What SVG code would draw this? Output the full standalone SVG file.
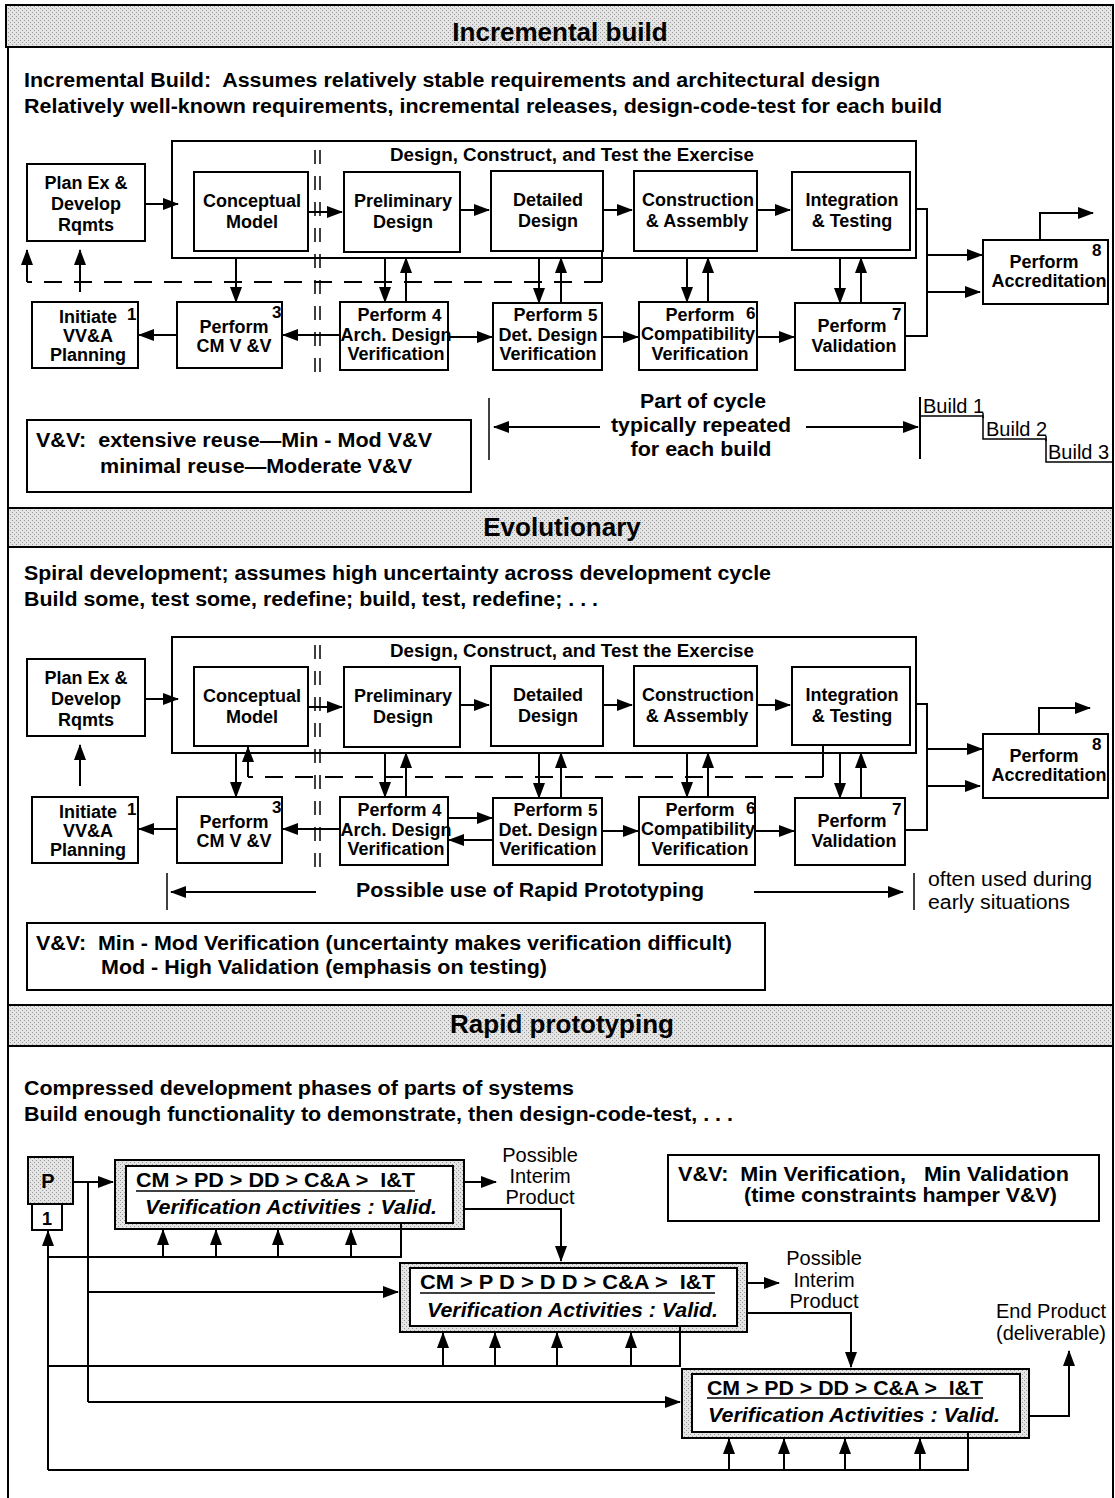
<svg xmlns="http://www.w3.org/2000/svg" width="1115" height="1498" viewBox="0 0 1115 1498" xml:space="preserve">
<defs>
  <pattern id="stipple" width="4" height="4" patternUnits="userSpaceOnUse">
    <rect width="4" height="4" fill="#e4e4e4"/>
    <rect x="0" y="0" width="1" height="1" fill="#9a9a9a"/>
    <rect x="2" y="2" width="1" height="1" fill="#9a9a9a"/>
  </pattern>
  <marker id="ah" viewBox="0 0 16 12" refX="15" refY="6" markerWidth="16" markerHeight="12" markerUnits="userSpaceOnUse" orient="auto">
    <path d="M0,0 L16,6 L0,12 Z" fill="#000"/>
  </marker>
</defs>
<style>
  text { font-family: "Liberation Sans", Arial, Helvetica, sans-serif; fill: #000; white-space: pre; }
  .hd { font-size: 26px; font-weight: bold; text-anchor: middle; }
  .intro { font-size: 20px; font-weight: bold; }
  .nd { font-size: 18px; font-weight: bold; text-anchor: middle; }
  .num { font-size: 17px; font-weight: bold; }
  .lbl { font-size: 20px; font-weight: bold; }
  .reg { font-size: 20px; }
  .mid { text-anchor: middle; }
  .it { font-style: italic; }
  .box { fill: #fff; stroke: #000; stroke-width: 2; }
  .frame { fill: none; stroke: #000; stroke-width: 2; }
  .shade { fill: url(#stipple); stroke: #000; stroke-width: 2; }
  .ln { fill: none; stroke: #000; stroke-width: 2; }
  .thin { fill: none; stroke: #000; stroke-width: 1.5; }
  .arr { marker-end: url(#ah); }
  .dash { stroke-dasharray: 18 12; }
  .rail { fill: none; stroke: #000; stroke-width: 1.5; stroke-dasharray: 14 12; }
</style>

<rect width="1115" height="1498" fill="#fff"/>

<!-- outer frame and section headers -->
<g id="frame">
  <line x1="8" y1="5" x2="8" y2="1498" class="ln"/>
  <line x1="1113" y1="5" x2="1113" y2="1498" class="ln"/>
  <rect x="6" y="5" width="1107" height="42" class="shade"/>
  <text x="560" y="41" class="hd">Incremental build</text>
  <rect x="8" y="508" width="1105" height="39" class="shade"/>
  <text x="562" y="536" class="hd">Evolutionary</text>
  <rect x="8" y="1005" width="1105" height="41" class="shade"/>
  <text x="562" y="1033" class="hd">Rapid prototyping</text>
</g>

<!-- ============ Incremental build ============ -->
<g id="s1-text">
  <text x="24" y="87" class="intro" textLength="856" lengthAdjust="spacingAndGlyphs">Incremental Build:  Assumes relatively stable requirements and architectural design</text>
  <text x="24" y="113" class="intro" textLength="918" lengthAdjust="spacingAndGlyphs">Relatively well-known requirements, incremental releases, design-code-test for each build</text>
</g>

<g id="s1-exercise">
  <rect x="172" y="141" width="744" height="117" class="frame"/>
  <text x="572" y="161" class="nd" textLength="364" lengthAdjust="spacingAndGlyphs">Design, Construct, and Test the Exercise</text>
</g>
<g id="s1-rail">
  <line x1="315" y1="150" x2="315" y2="382" class="rail"/>
  <line x1="320" y1="150" x2="320" y2="382" class="rail"/>
</g>

<g id="s1-plan">
  <rect x="27" y="164" width="118" height="77" class="box"/>
  <text x="86" y="189" class="nd">Plan Ex &amp;</text>
  <text x="86" y="210" class="nd">Develop</text>
  <text x="86" y="231" class="nd">Rqmts</text>
</g>
<g id="s1-cm">
  <rect x="194" y="172" width="114" height="79" class="box"/>
  <text x="252" y="207" class="nd">Conceptual</text>
  <text x="252" y="228" class="nd">Model</text>
</g>
<g id="s1-pd">
  <rect x="344" y="172" width="116" height="80" class="box"/>
  <text x="403" y="207" class="nd">Preliminary</text>
  <text x="403" y="228" class="nd">Design</text>
</g>
<g id="s1-dd">
  <rect x="491" y="171" width="112" height="80" class="box"/>
  <text x="548" y="206" class="nd">Detailed</text>
  <text x="548" y="227" class="nd">Design</text>
</g>
<g id="s1-ca">
  <rect x="634" y="171" width="123" height="80" class="box"/>
  <text x="698" y="206" class="nd">Construction</text>
  <text x="697" y="227" class="nd">&amp; Assembly</text>
</g>
<g id="s1-it">
  <rect x="792" y="172" width="118" height="78" class="box"/>
  <text x="852" y="206" class="nd">Integration</text>
  <text x="852" y="227" class="nd">&amp; Testing</text>
</g>

<g id="s1-n1">
  <rect x="32" y="302" width="106" height="66" class="box"/>
  <text x="88" y="323" class="nd">Initiate</text>
  <text x="127" y="320" class="num">1</text>
  <text x="88" y="342" class="nd">VV&amp;A</text>
  <text x="88" y="361" class="nd">Planning</text>
</g>
<g id="s1-n3">
  <rect x="177" y="302" width="105" height="66" class="box"/>
  <text x="234" y="333" class="nd">Perform</text>
  <text x="272" y="318" class="num">3</text>
  <text x="234" y="352" class="nd">CM V &amp;V</text>
</g>
<g id="s1-n4">
  <rect x="340" y="302" width="108" height="68" class="box"/>
  <text x="392" y="321" class="nd">Perform</text>
  <text x="432" y="321" class="num">4</text>
  <text x="396" y="341" class="nd">Arch. Design</text>
  <text x="396" y="360" class="nd">Verification</text>
</g>
<g id="s1-n5">
  <rect x="493" y="303" width="109" height="67" class="box"/>
  <text x="548" y="321" class="nd">Perform</text>
  <text x="588" y="321" class="num">5</text>
  <text x="548" y="341" class="nd">Det. Design</text>
  <text x="548" y="360" class="nd">Verification</text>
</g>
<g id="s1-n6">
  <rect x="639" y="302" width="118" height="68" class="box"/>
  <text x="700" y="321" class="nd">Perform</text>
  <text x="746" y="319" class="num">6</text>
  <text x="698" y="340" class="nd">Compatibility</text>
  <text x="700" y="360" class="nd">Verification</text>
</g>
<g id="s1-n7">
  <rect x="795" y="303" width="110" height="67" class="box"/>
  <text x="852" y="332" class="nd">Perform</text>
  <text x="854" y="352" class="nd">Validation</text>
  <text x="892" y="320" class="num">7</text>
</g>
<g id="s1-n8">
  <rect x="983" y="240" width="125" height="64" class="box"/>
  <text x="1044" y="268" class="nd">Perform</text>
  <text x="1049" y="287" class="nd">Accreditation</text>
  <text x="1092" y="256" class="num">8</text>
</g>

<g id="s1-connectors">
  <!-- forward flow through design steps -->
  <line x1="145" y1="204" x2="178" y2="204" class="ln arr"/>
  <line x1="308" y1="212" x2="342" y2="212" class="ln arr"/>
  <line x1="460" y1="210" x2="489" y2="210" class="ln arr"/>
  <line x1="603" y1="210" x2="632" y2="210" class="ln arr"/>
  <line x1="757" y1="210" x2="790" y2="210" class="ln arr"/>
  <!-- design steps to verification activities -->
  <line x1="236" y1="258" x2="236" y2="302" class="ln arr"/>
  <line x1="385" y1="258" x2="385" y2="302" class="ln arr"/>
  <line x1="406" y1="302" x2="406" y2="258" class="ln arr"/>
  <line x1="539" y1="258" x2="539" y2="303" class="ln arr"/>
  <line x1="561" y1="303" x2="561" y2="258" class="ln arr"/>
  <line x1="687" y1="258" x2="687" y2="302" class="ln arr"/>
  <line x1="708" y1="302" x2="708" y2="258" class="ln arr"/>
  <line x1="840" y1="258" x2="840" y2="303" class="ln arr"/>
  <line x1="861" y1="303" x2="861" y2="258" class="ln arr"/>
  <!-- feedback to requirements -->
  <line x1="602" y1="251" x2="602" y2="282" class="ln"/>
  <line x1="602" y1="282" x2="27" y2="282" class="ln dash"/>
  <line x1="27" y1="282" x2="27" y2="250" class="ln arr"/>
  <line x1="80" y1="292" x2="80" y2="250" class="ln arr"/>
  <!-- verification chain -->
  <line x1="177" y1="335" x2="139" y2="335" class="ln arr"/>
  <line x1="340" y1="335" x2="283" y2="335" class="ln arr"/>
  <line x1="448" y1="337" x2="492" y2="337" class="ln arr"/>
  <line x1="602" y1="337" x2="638" y2="337" class="ln arr"/>
  <line x1="757" y1="337" x2="794" y2="337" class="ln arr"/>
  <!-- to accreditation -->
  <polyline points="916,209 927,209 927,336 905,336" class="ln"/>
  <line x1="927" y1="255" x2="982" y2="255" class="ln arr"/>
  <line x1="927" y1="292" x2="980" y2="292" class="ln arr"/>
  <polyline points="1040,240 1040,213 1093,213" class="ln arr"/>
</g>

<g id="s1-vv">
  <rect x="27" y="420" width="444" height="72" class="box"/>
  <text x="36" y="447" class="lbl" textLength="396" lengthAdjust="spacingAndGlyphs">V&amp;V:  extensive reuse—Min - Mod V&amp;V</text>
  <text x="100" y="473" class="lbl" textLength="312" lengthAdjust="spacingAndGlyphs">minimal reuse—Moderate V&amp;V</text>
</g>

<g id="s1-cycle">
  <line x1="489" y1="398" x2="489" y2="460" class="thin"/>
  <line x1="600" y1="427" x2="494" y2="427" class="ln arr"/>
  <line x1="806" y1="427" x2="918" y2="427" class="ln arr"/>
  <text x="703" y="408" class="lbl mid" textLength="126" lengthAdjust="spacingAndGlyphs">Part of cycle</text>
  <text x="701" y="432" class="lbl mid" textLength="180" lengthAdjust="spacingAndGlyphs">typically repeated</text>
  <text x="701" y="456" class="lbl mid" textLength="141" lengthAdjust="spacingAndGlyphs">for each build</text>
</g>

<g id="s1-builds">
  <line x1="920" y1="397" x2="920" y2="459" class="ln"/>
  <text x="923" y="413" class="reg">Build 1</text>
  <polyline points="921,416 983,416 983,439 1046,439 1046,462 1113,462" class="thin"/>
  <line x1="983" y1="413" x2="983" y2="418" class="thin"/>
  <line x1="1046" y1="436" x2="1046" y2="441" class="thin"/>
  <text x="986" y="436" class="reg">Build 2</text>
  <text x="1048" y="459" class="reg">Build 3</text>
</g>

<!-- ============ Evolutionary ============ -->
<g id="s2-text">
  <text x="24" y="580" class="intro" textLength="747" lengthAdjust="spacingAndGlyphs">Spiral development; assumes high uncertainty across development cycle</text>
  <text x="24" y="606" class="intro" textLength="574" lengthAdjust="spacingAndGlyphs">Build some, test some, redefine; build, test, redefine; . . .</text>
</g>

<g id="s2-exercise">
  <rect x="172" y="637" width="744" height="116" class="frame"/>
  <text x="572" y="657" class="nd" textLength="364" lengthAdjust="spacingAndGlyphs">Design, Construct, and Test the Exercise</text>
</g>
<g id="s2-rail">
  <line x1="315" y1="645" x2="315" y2="872" class="rail"/>
  <line x1="320" y1="645" x2="320" y2="872" class="rail"/>
</g>

<g id="s2-plan" transform="translate(0,495)">
  <rect x="27" y="164" width="118" height="77" class="box"/>
  <text x="86" y="189" class="nd">Plan Ex &amp;</text>
  <text x="86" y="210" class="nd">Develop</text>
  <text x="86" y="231" class="nd">Rqmts</text>
</g>
<g id="s2-cm" transform="translate(0,495)">
  <rect x="194" y="172" width="114" height="79" class="box"/>
  <text x="252" y="207" class="nd">Conceptual</text>
  <text x="252" y="228" class="nd">Model</text>
</g>
<g id="s2-pd" transform="translate(0,495)">
  <rect x="344" y="172" width="116" height="80" class="box"/>
  <text x="403" y="207" class="nd">Preliminary</text>
  <text x="403" y="228" class="nd">Design</text>
</g>
<g id="s2-dd" transform="translate(0,495)">
  <rect x="491" y="171" width="112" height="80" class="box"/>
  <text x="548" y="206" class="nd">Detailed</text>
  <text x="548" y="227" class="nd">Design</text>
</g>
<g id="s2-ca" transform="translate(0,495)">
  <rect x="634" y="171" width="123" height="80" class="box"/>
  <text x="698" y="206" class="nd">Construction</text>
  <text x="697" y="227" class="nd">&amp; Assembly</text>
</g>
<g id="s2-it" transform="translate(0,495)">
  <rect x="792" y="172" width="118" height="78" class="box"/>
  <text x="852" y="206" class="nd">Integration</text>
  <text x="852" y="227" class="nd">&amp; Testing</text>
</g>

<g id="s2-n1" transform="translate(0,495)">
  <rect x="32" y="302" width="106" height="66" class="box"/>
  <text x="88" y="323" class="nd">Initiate</text>
  <text x="127" y="320" class="num">1</text>
  <text x="88" y="342" class="nd">VV&amp;A</text>
  <text x="88" y="361" class="nd">Planning</text>
</g>
<g id="s2-n3" transform="translate(0,495)">
  <rect x="177" y="302" width="105" height="66" class="box"/>
  <text x="234" y="333" class="nd">Perform</text>
  <text x="272" y="318" class="num">3</text>
  <text x="234" y="352" class="nd">CM V &amp;V</text>
</g>
<g id="s2-n4" transform="translate(0,495)">
  <rect x="340" y="302" width="108" height="68" class="box"/>
  <text x="392" y="321" class="nd">Perform</text>
  <text x="432" y="321" class="num">4</text>
  <text x="396" y="341" class="nd">Arch. Design</text>
  <text x="396" y="360" class="nd">Verification</text>
</g>
<g id="s2-n5" transform="translate(0,495)">
  <rect x="493" y="303" width="109" height="67" class="box"/>
  <text x="548" y="321" class="nd">Perform</text>
  <text x="588" y="321" class="num">5</text>
  <text x="548" y="341" class="nd">Det. Design</text>
  <text x="548" y="360" class="nd">Verification</text>
</g>
<g id="s2-n6" transform="translate(0,495)">
  <rect x="639" y="302" width="116" height="68" class="box"/>
  <text x="700" y="321" class="nd">Perform</text>
  <text x="746" y="319" class="num">6</text>
  <text x="698" y="340" class="nd">Compatibility</text>
  <text x="700" y="360" class="nd">Verification</text>
</g>
<g id="s2-n7" transform="translate(0,495)">
  <rect x="795" y="303" width="110" height="67" class="box"/>
  <text x="852" y="332" class="nd">Perform</text>
  <text x="854" y="352" class="nd">Validation</text>
  <text x="892" y="320" class="num">7</text>
</g>
<g id="s2-n8" transform="translate(0,495)">
  <rect x="983" y="239" width="125" height="64" class="box"/>
  <text x="1044" y="267" class="nd">Perform</text>
  <text x="1049" y="286" class="nd">Accreditation</text>
  <text x="1092" y="255" class="num">8</text>
</g>

<g id="s2-connectors">
  <line x1="145" y1="699" x2="178" y2="699" class="ln arr"/>
  <line x1="308" y1="707" x2="342" y2="707" class="ln arr"/>
  <line x1="460" y1="705" x2="489" y2="705" class="ln arr"/>
  <line x1="603" y1="705" x2="632" y2="705" class="ln arr"/>
  <line x1="757" y1="705" x2="790" y2="705" class="ln arr"/>
  <line x1="236" y1="753" x2="236" y2="797" class="ln arr"/>
  <line x1="385" y1="753" x2="385" y2="797" class="ln arr"/>
  <line x1="406" y1="797" x2="406" y2="753" class="ln arr"/>
  <line x1="539" y1="753" x2="539" y2="798" class="ln arr"/>
  <line x1="561" y1="798" x2="561" y2="753" class="ln arr"/>
  <line x1="687" y1="753" x2="687" y2="797" class="ln arr"/>
  <line x1="708" y1="797" x2="708" y2="753" class="ln arr"/>
  <line x1="840" y1="753" x2="840" y2="798" class="ln arr"/>
  <line x1="861" y1="798" x2="861" y2="753" class="ln arr"/>
  <!-- feedback from integration back to the conceptual model -->
  <line x1="823" y1="745" x2="823" y2="777" class="ln"/>
  <line x1="823" y1="777" x2="248" y2="777" class="ln dash"/>
  <line x1="248" y1="777" x2="248" y2="747" class="ln arr"/>
  <line x1="80" y1="786" x2="80" y2="745" class="ln arr"/>
  <line x1="177" y1="829" x2="139" y2="829" class="ln arr"/>
  <line x1="340" y1="829" x2="283" y2="829" class="ln arr"/>
  <line x1="448" y1="818" x2="492" y2="818" class="ln arr"/>
  <line x1="493" y1="840" x2="449" y2="840" class="ln arr"/>
  <line x1="602" y1="831" x2="638" y2="831" class="ln arr"/>
  <line x1="755" y1="831" x2="794" y2="831" class="ln arr"/>
  <polyline points="916,704 927,704 927,830 905,830" class="ln"/>
  <line x1="927" y1="749" x2="982" y2="749" class="ln arr"/>
  <line x1="927" y1="786" x2="980" y2="786" class="ln arr"/>
  <polyline points="1039,734 1039,708 1090,708" class="ln arr"/>
</g>

<g id="s2-proto">
  <line x1="167" y1="873" x2="167" y2="910" class="thin"/>
  <line x1="316" y1="892" x2="171" y2="892" class="ln arr"/>
  <text x="530" y="897" class="lbl mid" textLength="348" lengthAdjust="spacingAndGlyphs">Possible use of Rapid Prototyping</text>
  <line x1="754" y1="892" x2="903" y2="892" class="ln arr"/>
  <line x1="914" y1="873" x2="914" y2="910" class="thin"/>
  <text x="928" y="886" class="reg" textLength="164" lengthAdjust="spacingAndGlyphs">often used during</text>
  <text x="928" y="909" class="reg" textLength="142" lengthAdjust="spacingAndGlyphs">early situations</text>
</g>

<g id="s2-vv">
  <rect x="27" y="923" width="738" height="67" class="box"/>
  <text x="36" y="950" class="lbl" textLength="696" lengthAdjust="spacingAndGlyphs">V&amp;V:  Min - Mod Verification (uncertainty makes verification difficult)</text>
  <text x="101" y="974" class="lbl" textLength="446" lengthAdjust="spacingAndGlyphs">Mod - High Validation (emphasis on testing)</text>
</g>

<!-- ============ Rapid prototyping ============ -->
<g id="s3-text">
  <text x="24" y="1095" class="intro" textLength="550" lengthAdjust="spacingAndGlyphs">Compressed development phases of parts of systems</text>
  <text x="24" y="1121" class="intro" textLength="709" lengthAdjust="spacingAndGlyphs">Build enough functionality to demonstrate, then design-code-test, . . .</text>
</g>

<g id="s3-p">
  <rect x="28" y="1157" width="45" height="47" class="shade"/>
  <text x="48" y="1188" class="lbl mid">P</text>
  <rect x="32" y="1204" width="30" height="26" class="box"/>
  <text x="47" y="1225" class="nd">1</text>
</g>

<g id="s3-build1">
  <rect x="115" y="1160" width="349" height="69" class="shade"/>
  <rect x="126" y="1166" width="327" height="57" class="box"/>
  <text x="136" y="1187" class="lbl" textLength="279" lengthAdjust="spacingAndGlyphs">CM &gt; PD &gt; DD &gt; C&amp;A &gt;  I&amp;T</text>
  <line x1="136" y1="1191" x2="415" y2="1191" class="thin"/>
  <text x="145" y="1214" class="lbl it" textLength="292" lengthAdjust="spacingAndGlyphs">Verification Activities : Valid.</text>
</g>
<g id="s3-build2">
  <rect x="400" y="1263" width="347" height="69" class="shade"/>
  <rect x="410" y="1268" width="327" height="58" class="box"/>
  <text x="420" y="1289" class="lbl" textLength="295" lengthAdjust="spacingAndGlyphs">CM &gt; P D &gt; D D &gt; C&amp;A &gt;  I&amp;T</text>
  <line x1="420" y1="1293" x2="715" y2="1293" class="thin"/>
  <text x="427" y="1317" class="lbl it" textLength="291" lengthAdjust="spacingAndGlyphs">Verification Activities : Valid.</text>
</g>
<g id="s3-build3">
  <rect x="682" y="1369" width="347" height="69" class="shade"/>
  <rect x="692" y="1374" width="328" height="58" class="box"/>
  <text x="707" y="1395" class="lbl" textLength="276" lengthAdjust="spacingAndGlyphs">CM &gt; PD &gt; DD &gt; C&amp;A &gt;  I&amp;T</text>
  <line x1="707" y1="1398" x2="983" y2="1398" class="thin"/>
  <text x="708" y="1422" class="lbl it" textLength="292" lengthAdjust="spacingAndGlyphs">Verification Activities : Valid.</text>
</g>

<g id="s3-interim1">
  <text x="540" y="1162" class="reg mid">Possible</text>
  <text x="540" y="1183" class="reg mid">Interim</text>
  <text x="540" y="1204" class="reg mid">Product</text>
</g>
<g id="s3-interim2">
  <text x="824" y="1265" class="reg mid">Possible</text>
  <text x="824" y="1287" class="reg mid">Interim</text>
  <text x="824" y="1308" class="reg mid">Product</text>
</g>
<g id="s3-end">
  <text x="1051" y="1318" class="reg mid">End Product</text>
  <text x="1051" y="1340" class="reg mid">(deliverable)</text>
</g>

<g id="s3-vv">
  <rect x="668" y="1155" width="431" height="66" class="box"/>
  <text x="678" y="1181" class="lbl" textLength="391" lengthAdjust="spacingAndGlyphs">V&amp;V:  Min Verification,   Min Validation</text>
  <text x="744" y="1202" class="lbl" textLength="313" lengthAdjust="spacingAndGlyphs">(time constraints hamper V&amp;V)</text>
</g>

<g id="s3-connectors">
  <!-- start of each build -->
  <line x1="73" y1="1182" x2="113" y2="1182" class="ln arr"/>
  <line x1="88" y1="1182" x2="88" y2="1402" class="ln"/>
  <line x1="88" y1="1292" x2="398" y2="1292" class="ln arr"/>
  <line x1="88" y1="1402" x2="680" y2="1402" class="ln arr"/>
  <!-- outputs -->
  <line x1="464" y1="1182" x2="496" y2="1182" class="ln arr"/>
  <polyline points="464,1209 561,1209 561,1261" class="ln arr"/>
  <line x1="747" y1="1283" x2="779" y2="1283" class="ln arr"/>
  <polyline points="747,1313 851,1313 851,1367" class="ln arr"/>
  <polyline points="1029,1416 1069,1416 1069,1351" class="ln arr"/>
  <!-- feedback loops into the prototype -->
  <line x1="48" y1="1470" x2="48" y2="1231" class="ln arr"/>
  <polyline points="48,1257 401,1257 401,1223" class="ln"/>
  <polyline points="48,1366 680,1366 680,1326" class="ln"/>
  <polyline points="48,1470 968,1470 968,1432" class="ln"/>
  <line x1="163" y1="1257" x2="163" y2="1230" class="ln arr"/>
  <line x1="216" y1="1257" x2="216" y2="1230" class="ln arr"/>
  <line x1="278" y1="1257" x2="278" y2="1230" class="ln arr"/>
  <line x1="351" y1="1257" x2="351" y2="1230" class="ln arr"/>
  <line x1="443" y1="1366" x2="443" y2="1333" class="ln arr"/>
  <line x1="495" y1="1366" x2="495" y2="1333" class="ln arr"/>
  <line x1="557" y1="1366" x2="557" y2="1333" class="ln arr"/>
  <line x1="631" y1="1366" x2="631" y2="1333" class="ln arr"/>
  <line x1="729" y1="1470" x2="729" y2="1439" class="ln arr"/>
  <line x1="784" y1="1470" x2="784" y2="1439" class="ln arr"/>
  <line x1="845" y1="1470" x2="845" y2="1439" class="ln arr"/>
  <line x1="920" y1="1470" x2="920" y2="1439" class="ln arr"/>
</g>
</svg>
